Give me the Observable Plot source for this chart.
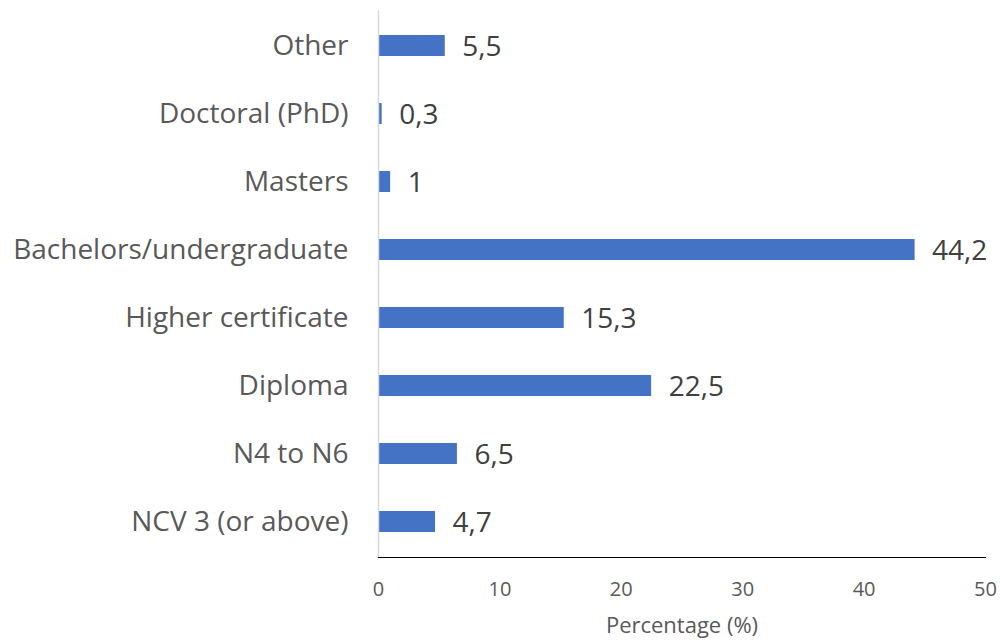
<!DOCTYPE html>
<html>
<head>
<meta charset="utf-8">
<script src="https://cdn.jsdelivr.net/npm/d3@7"></script>
<script src="https://cdn.jsdelivr.net/npm/@observablehq/plot@0.6"></script>
<style>
  html, body { margin: 0; padding: 0; background: #fff; }
  #chart svg { display: block; }
</style>
</head>
<body>
<div id="chart"></div>
<script>
const categories = ["Other", "Doctoral (PhD)", "Masters", "Bachelors/undergraduate", "Higher certificate", "Diploma", "N4 to N6", "NCV 3 (or above)"];
const values = [5.5, 0.3, 1, 44.2, 15.3, 22.5, 6.5, 4.7];
const xTicks = [0, 10, 20, 30, 40, 50];
const xLabel = "Percentage (%)";

const data = categories.map((c, i) => ({category: c, value: values[i]}));
const fmt = v => String(v).replace(".", ",");

const chart = Plot.plot({
  width: 1000,
  height: 641,
  marginLeft: 378,
  marginRight: 15,
  marginTop: 10,
  marginBottom: 84,
  style: {fontFamily: "Open Sans", background: "#fff"},
  x: {domain: [0, 50]},
  y: {domain: categories, paddingInner: 0.69, paddingOuter: 0.345},
  marks: [
    Plot.barX(data, {x: "value", y: "category", fill: "#4472C4"}),
    Plot.text(data, {x: "value", y: "category", text: d => fmt(d.value), textAnchor: "start", dx: 17, dy: 1, fontSize: 28, fill: "#404040"}),
    Plot.ruleX([0], {stroke: "#d9d9d9", strokeWidth: 1.5}),
    Plot.frame({anchor: "bottom", stroke: "#000", strokeWidth: 1.2}),
    Plot.axisY({tickSize: 0, tickPadding: 30, fontSize: 28, color: "#595959", label: null}),
    Plot.axisX({ticks: xTicks, tickSize: 0, tickPadding: 24, fontSize: 20, color: "#595959", label: null}),
    Plot.text([xLabel], {frameAnchor: "bottom", dy: 68, lineAnchor: "middle", fontSize: 22, fill: "#595959"})
  ]
});
document.getElementById("chart").appendChild(chart);
</script>
</body>
</html>
